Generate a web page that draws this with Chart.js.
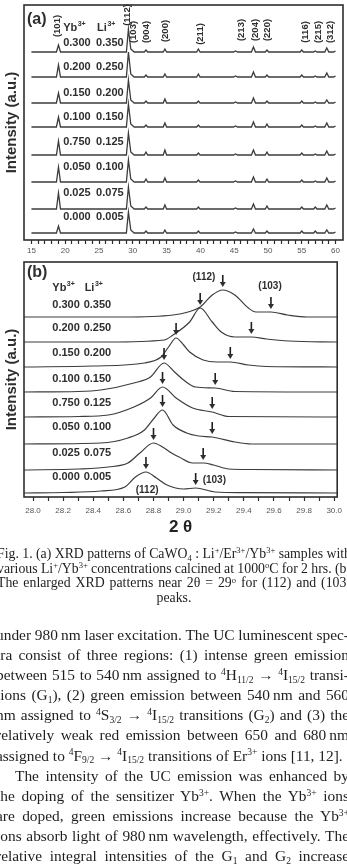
<!DOCTYPE html>
<html>
<head>
<meta charset="utf-8">
<script src="https://cdn.jsdelivr.net/npm/chart.js@4.4.1/dist/chart.umd.min.js"></script>
<style>
    html, body { margin: 0; padding: 0; background: #fff; }
    body { width: 347px; height: 866px; position: relative; overflow: hidden; }
    canvas { position: absolute; left: 0; }
    #chartA { top: 0; }
    #chartB { top: 258px; }
    .txt { position: absolute; font-family: "Liberation Serif", "Times New Roman", serif; color: #1e1e1e; }
    .txt div { white-space: nowrap; }
    #caption { left: -3px; width: 354px; top: 547px; font-size: 13.8px; line-height: 14.7px; }
    #caption .last { text-align: center; }
    #body { left: -4px; width: 353px; top: 625px; font-size: 15.4px; line-height: 20.1px; }
    #body .indent { padding-left: 19px; }
    sup, sub { font-size: 0.62em; line-height: 0; position: relative; vertical-align: baseline; }
    sup { top: -0.55em; }
    sub { top: 0.3em; }
</style>
</head>
<body>
<canvas id="chartA" width="347" height="262"></canvas>
<canvas id="chartB" width="347" height="280"></canvas>

<div id="caption" class="txt">
    <div><span>Fig. 1. (a) XRD patterns of CaWO<sub>4</sub> : Li<sup>+</sup>/Er<sup>3+</sup>/Yb<sup>3+</sup> samples with</span></div>
    <div><span>various Li<sup>+</sup>/Yb<sup>3+</sup> concentrations calcined at 1000<sup>o</sup>C for 2 hrs. (b)</span></div>
    <div><span>The enlarged XRD patterns near 2θ = 29<sup>o</sup> for (112) and (103)</span></div>
    <div class="last"><span>peaks.</span></div>
</div>

<div id="body" class="txt">
    <div><span>under 980&#8201;nm laser excitation. The UC luminescent spec-</span></div>
    <div><span>tra consist of three regions: (1) intense green emission</span></div>
    <div><span>between 515 to 540&#8201;nm assigned to <sup>4</sup>H<sub>11/2</sub> → <sup>4</sup>I<sub>15/2</sub> transi-</span></div>
    <div><span>tions (G<sub>1</sub>), (2) green emission between 540&#8201;nm and 560</span></div>
    <div><span>nm assigned to <sup>4</sup>S<sub>3/2</sub> → <sup>4</sup>I<sub>15/2</sub> transitions (G<sub>2</sub>) and (3) the</span></div>
    <div><span>relatively weak red emission between 650 and 680&#8201;nm</span></div>
    <div class="end"><span>assigned to <sup>4</sup>F<sub>9/2</sub> → <sup>4</sup>I<sub>15/2</sub> transitions of Er<sup>3+</sup> ions [11, 12].</span></div>
    <div class="indent"><span>The intensity of the UC emission was enhanced by</span></div>
    <div><span>the doping of the sensitizer Yb<sup>3+</sup>. When the Yb<sup>3+</sup> ions</span></div>
    <div><span>are doped, green emissions increase because the Yb<sup>3+</sup></span></div>
    <div><span>ions absorb light of 980&#8201;nm wavelength, effectively. The</span></div>
    <div><span>relative integral intensities of the G<sub>1</sub> and G<sub>2</sub> increase</span></div>
</div>

<script>
// Fig. 1 of the CaWO4:Li/Er/Yb paper, redrawn as two stacked XRD panels.
// Intensities are in arbitrary units; each trace is
// lifted by its own stack offset, just like the original Origin plot.

// ---- sample labels (same order in both panels, top trace first) ----
const YB = ['0.300', '0.200', '0.150', '0.100', '0.750', '0.050', '0.025', '0.000'];
const LI = ['0.350', '0.250', '0.200', '0.150', '0.125', '0.100', '0.075', '0.005'];

// ---- panel (a): 2θ = 15..60 ----
const TICK_LABELS_A = [15, 20, 25, 30, 35, 40, 45, 50, 55, 60];
const X_A = [15.0, 18.7, 19.0, 19.3, 29.05, 29.35, 29.7, 30.2, 31.7, 31.95, 32.2,
    34.5, 34.75, 35.0, 39.45, 39.7, 39.95, 44.9, 45.2, 45.5, 47.55, 47.85, 48.15,
    49.6, 49.85, 50.1, 54.75, 55.0, 55.25, 56.75, 57.0, 57.25, 58.4, 58.7, 59.0, 59.7, 60.0];
const A_300 = [0, 0, 7, 0, 0, 23, 3, 0, 0, 2, 0, 0, 3, 0, 0, 3, 0, 0, 1, 0, 0, 5, 0, 0, 2, 0, 0, 2, 0, 0, 1, 0, 0, 4, 0, 0, 1];
const A_200 = [0, 0, 12, 0, 0, 25, 3, 0, 0, 2, 0, 0, 3, 0, 0, 3, 0, 0, 1, 0, 0, 5, 0, 0, 2, 0, 0, 2, 0, 0, 1, 0, 0, 4, 0, 0, 1];
const A_150 = [0, 0, 10, 0, 0, 23, 3, 0, 0, 2, 0, 0, 4, 0, 0, 2, 0, 0, 1, 0, 0, 5, 0, 0, 2, 0, 0, 2, 0, 0, 1, 0, 0, 3, 0, 0, 1];
const A_100 = [0, 0, 10, 0, 0, 23, 3, 0, 0, 2, 0, 0, 4, 0, 0, 2, 0, 0, 1, 0, 0, 5, 0, 0, 3, 0, 0, 2, 0, 0, 1, 0, 0, 4, 0, 0, 1];
const A_750 = [0, 0, 14, 0, 0, 22, 3, 0, 0, 3, 0, 0, 5, 0, 0, 2, 0, 0, 1, 0, 0, 5, 0, 0, 3, 0, 0, 2, 0, 0, 1, 0, 0, 4, 0, 0, 1];
const A_050 = [0, 0, 15, 0, 0, 22, 3, 0, 0, 3, 0, 0, 4, 0, 0, 2, 0, 0, 1, 0, 0, 5, 0, 0, 3, 0, 0, 2, 0, 0, 1, 0, 0, 4, 0, 0, 1];
const A_025 = [0, 0, 16, 0, 0, 22, 3, 0, 0, 2, 0, 0, 4, 0, 0, 2, 0, 0, 1, 0, 0, 5, 0, 0, 3, 0, 0, 2, 0, 0, 2, 0, 0, 4, 0, 0, 1];
const A_000 = [0, 0, 7, 0, 0, 21, 3, 0, 0, 2, 0, 0, 3, 0, 0, 2, 0, 0, 1, 0, 0, 4, 0, 0, 2, 0, 0, 2, 0, 0, 2, 0, 0, 3, 0, 0, 1];
const ROWS_A = [A_300, A_200, A_150, A_100, A_750, A_050, A_025, A_000];
const OFFSET_A = [188, 163, 137, 113, 85, 58, 31, 7];

// Miller indices written vertically above the top trace
const PLANES_A = ['(101)', '(112)', '(103)', '(004)', '(200)', '(211)', '(213)', '(204)', '(220)', '(116)', '(215)', '(312)'];
const PLANES_A_X = [18.88, 29.2, 30.09, 32.07, 34.78, 39.96, 46.09, 48.09, 49.87, 55.49, 57.41, 59.19];
const PLANES_A_Y = [214, 225, 208, 208, 209, 206, 210, 210, 210, 208, 208, 208];

// ---- panel (b): zoom on 2θ = 28..30 ----
const TICK_LABELS_B = ['28.0', '28.2', '28.4', '28.6', '28.8', '29.0', '29.2', '29.4', '29.6', '29.8', '30.0'];
const B_X300 = [27.94, 28.6, 28.93, 29.03, 29.11, 29.19, 29.26, 29.34, 29.43, 29.48, 29.58, 29.69, 29.82, 30.02];
const B_Y300 = [0, 0, 2, 5, 10, 22, 27, 22, 9, 5, 5, 2, 0, 0];
const B_X200 = [27.94, 28.5, 28.87, 28.93, 29.04, 29.11, 29.19, 29.25, 29.34, 29.45, 29.55, 29.7, 30.02];
const B_Y200 = [0, 0, 2, 7, 20, 34, 20, 10, 5, 5, 3, 1, 0];
const B_X150 = [27.94, 28.4, 28.74, 28.85, 28.9, 28.95, 29.0, 29.04, 29.13, 29.22, 29.31, 29.43, 29.55, 30.02];
const B_Y150 = [0, 1, 4, 10, 20, 29, 22, 15, 7, 5, 5, 2, 0.5, 0];
const B_X100 = [27.94, 28.3, 28.45, 28.67, 28.78, 28.87, 28.94, 29.0, 29.08, 29.21, 29.34, 30.02];
const B_Y100 = [0, 0.5, 2, 9, 15, 29, 20, 12, 5, 4, 0.5, 0];
const B_X750 = [27.94, 28.3, 28.5, 28.67, 28.78, 28.86, 28.95, 29.06, 29.19, 29.3, 30.02];
const B_Y750 = [0, 0.5, 2, 10, 19, 30, 19, 9, 5, 0.5, 0];
const B_X050 = [27.94, 28.45, 28.63, 28.74, 28.8, 28.86, 28.93, 29.02, 29.1, 29.19, 29.34, 29.45, 30.02];
const B_Y050 = [0, 1, 6, 14, 25, 34, 19, 11, 8, 7, 2, 0, 0];
const B_X025 = [27.94, 28.3, 28.5, 28.63, 28.71, 28.8, 28.86, 28.92, 28.97, 29.06, 29.13, 29.2, 29.3, 29.45, 30.02];
const B_Y025 = [0, 1, 3, 7, 17, 27, 23, 17, 13, 7, 7, 5, 1, 0.5, 0];
const B_X000 = [27.94, 28.2, 28.45, 28.61, 28.68, 28.75, 28.82, 28.89, 29.0, 29.08, 29.21, 29.4, 30.02];
const B_Y000 = [0, 0.5, 2, 6, 16, 21, 15, 8, 4, 5, 1, 0.3, 0];
const ROWS_B = [[B_X300, B_Y300], [B_X200, B_Y200], [B_X150, B_Y150], [B_X100, B_Y100],
    [B_X750, B_Y750], [B_X050, B_Y050], [B_X025, B_Y025], [B_X000, B_Y000]];
const OFFSET_B = [180, 155, 130, 105, 80, 53, 27, 4];

// arrows: (112) main peak and (103) shoulder of each trace
const PEAK_X_B = [29.26, 29.11, 28.95, 28.87, 28.86, 28.86, 28.80, 28.75];
const PEAK_H_B = [27, 34, 29, 29, 30, 34, 27, 21];
const BUMP_X_B = [29.58, 29.45, 29.31, 29.21, 29.19, 29.19, 29.13, 29.08];
const BUMP_H_B = [5, 5, 5, 4, 5, 7, 7, 5];

const PLANES_B = ['(112)', '(103)', '(112)', '(103)'];
const PLANES_B_X = [29.135, 29.574, 28.758, 29.204];
const PLANES_B_Y = [220, 211, 7, 17];

// ---- styling ----
const INK = '#2e2e2e';
const LINE = '#3c3c3c';
const SANS = '"Liberation Sans", Arial, sans-serif';

// ---- helpers ----

function frameBox(ctx, a) {
    ctx.save();
    ctx.strokeStyle = INK;
    ctx.lineWidth = 1.6;
    ctx.strokeRect(a.left, a.top, a.right - a.left, a.bottom - a.top);
    ctx.restore();
}

function drawIon(ctx, base, sup, x, y) {
    ctx.font = `bold 11px ${SANS}`;
    ctx.textAlign = 'left';
    ctx.textBaseline = 'middle';
    ctx.fillText(base, x, y);
    const w = ctx.measureText(base).width;
    ctx.font = `bold 7px ${SANS}`;
    ctx.fillText(sup, x + w + 0.5, y - 4);
}

function drawArrow(ctx, px, tip) {
    ctx.beginPath();
    ctx.moveTo(px, tip - 12);
    ctx.lineTo(px, tip - 4);
    ctx.stroke();
    ctx.beginPath();
    ctx.moveTo(px - 3, tip - 5);
    ctx.lineTo(px + 3, tip - 5);
    ctx.lineTo(px, tip);
    ctx.closePath();
    ctx.fill();
}

function yAxis(title) {
    return {
        type: 'linear',
        min: 0,
        max: 235,
        ticks: { display: false },
        grid: { display: false },
        border: { display: false },
        title: {
            display: true,
            text: title,
            color: INK,
            font: { family: SANS, size: 15, weight: 'bold' },
            padding: { top: 3, bottom: 0 },
        },
        afterFit: (s) => { s.width = 24; },
    };
}

// ---- panel (a) ----

const labelsA = {
    id: 'labelsA',
    afterDraw(chart) {
        const { ctx, chartArea, scales: { x, y } } = chart;
        frameBox(ctx, chartArea);
        ctx.save();
        ctx.fillStyle = INK;
        ctx.font = `bold 16px ${SANS}`;
        ctx.textBaseline = 'middle';
        ctx.fillText('(a)', chartArea.left + 3, chartArea.top + 15);

        const colYb = x.getPixelForValue(19.69);
        const colLi = x.getPixelForValue(24.57);
        const topBase = y.getPixelForValue(OFFSET_A[0]);
        drawIon(ctx, 'Yb', '3+', colYb, topBase - 24);
        drawIon(ctx, 'Li', '3+', colLi + 1, topBase - 24);

        const lift = [9, 10, 10, 10, 13, 15, 16, 16];
        ctx.font = `bold 11px ${SANS}`;
        ctx.textAlign = 'left';
        YB.forEach((yb, r) => {
            const py = y.getPixelForValue(OFFSET_A[r]) - lift[r];
            ctx.fillText(yb, colYb, py);
            ctx.fillText(LI[r], colLi, py);
        });

        ctx.font = `bold 9.5px ${SANS}`;
        ctx.textAlign = 'center';
        PLANES_A.forEach((p, i) => {
            ctx.save();
            ctx.translate(x.getPixelForValue(PLANES_A_X[i]), y.getPixelForValue(PLANES_A_Y[i]));
            ctx.rotate(-Math.PI / 2);
            ctx.fillText(p, 0, 0);
            ctx.restore();
        });
        ctx.restore();
    },
};

new Chart(document.getElementById('chartA').getContext('2d'), {
    type: 'line',
    data: {
        datasets: ROWS_A.map((row, r) => ({
            data: X_A.map((v, i) => ({ x: v, y: OFFSET_A[r] + row[i] })),
            borderColor: LINE,
            borderWidth: 1.3,
            pointRadius: 0,
            tension: 0,
        })),
    },
    options: {
        responsive: false,
        animation: false,
        parsing: false,
        layout: { padding: { top: 5, right: 4, left: 0, bottom: 0 } },
        plugins: { legend: { display: false }, tooltip: { enabled: false } },
        scales: {
            x: {
                type: 'linear',
                min: 13.9,
                max: 61.1,
                afterBuildTicks: (s) => {
                    const t = [];
                    for (let v = TICK_LABELS_A[0]; v <= TICK_LABELS_A[TICK_LABELS_A.length - 1]; v++) {
                        t.push({ value: v });
                    }
                    s.ticks = t;
                },
                ticks: {
                    autoSkip: false,
                    maxRotation: 0,
                    padding: 2,
                    color: '#555',
                    font: { family: SANS, size: 8 },
                    callback: (v) => (TICK_LABELS_A.includes(v) ? String(v) : ''),
                },
                grid: { drawOnChartArea: false, tickLength: 4, color: INK, tickWidth: 1.2 },
                border: { display: false },
                afterFit: (s) => { s.height = 22; },
            },
            y: yAxis('Intensity (a.u.)'),
        },
    },
    plugins: [labelsA],
});

// ---- panel (b) ----

const labelsB = {
    id: 'labelsB',
    afterDraw(chart) {
        const { ctx, chartArea, scales: { x, y } } = chart;
        frameBox(ctx, chartArea);
        ctx.save();
        ctx.fillStyle = INK;
        ctx.strokeStyle = '#1e1e1e';
        ctx.lineWidth = 1.6;
        ctx.font = `bold 16px ${SANS}`;
        ctx.textBaseline = 'middle';
        ctx.fillText('(b)', chartArea.left + 3, chartArea.top + 11);

        const colYb = x.getPixelForValue(28.128);
        const colLi = x.getPixelForValue(28.336);
        const topBase = y.getPixelForValue(OFFSET_B[0]);
        drawIon(ctx, 'Yb', '3+', colYb, topBase - 29);
        drawIon(ctx, 'Li', '3+', colLi + 1, topBase - 29);

        const lift = [12, 14, 14, 13, 14, 17, 17, 16];
        ctx.font = `bold 11px ${SANS}`;
        ctx.textAlign = 'left';
        YB.forEach((yb, r) => {
            const py = y.getPixelForValue(OFFSET_B[r]) - lift[r];
            ctx.fillText(yb, colYb, py);
            ctx.fillText(LI[r], colLi, py);
            drawArrow(ctx, x.getPixelForValue(PEAK_X_B[r]), y.getPixelForValue(OFFSET_B[r] + PEAK_H_B[r]) - 3);
            drawArrow(ctx, x.getPixelForValue(BUMP_X_B[r]), y.getPixelForValue(OFFSET_B[r] + BUMP_H_B[r]) - 3);
        });

        ctx.font = `bold 10px ${SANS}`;
        ctx.textAlign = 'center';
        PLANES_B.forEach((p, i) => {
            ctx.fillText(p, x.getPixelForValue(PLANES_B_X[i]), y.getPixelForValue(PLANES_B_Y[i]));
        });
        ctx.restore();
    },
};

new Chart(document.getElementById('chartB').getContext('2d'), {
    type: 'line',
    data: {
        datasets: ROWS_B.map(([xs, ys], r) => ({
            data: xs.map((v, i) => ({ x: v, y: OFFSET_B[r] + ys[i] })),
            borderColor: LINE,
            borderWidth: 1.2,
            pointRadius: 0,
            cubicInterpolationMode: 'monotone',
        })),
    },
    options: {
        responsive: false,
        animation: false,
        parsing: false,
        layout: { padding: { top: 4, right: 3, left: 0, bottom: 0 } },
        plugins: { legend: { display: false }, tooltip: { enabled: false } },
        scales: {
            x: {
                type: 'linear',
                min: 27.94,
                max: 30.02,
                afterBuildTicks: (s) => {
                    const t = [];
                    for (let i = 0; i <= (TICK_LABELS_B.length - 1) * 2; i++) {
                        t.push({ value: 28 + i / 10 });
                    }
                    s.ticks = t;
                },
                ticks: {
                    autoSkip: false,
                    maxRotation: 0,
                    padding: 5,
                    color: '#555',
                    font: { family: SANS, size: 8 },
                    callback: (v, i) => (i % 2 === 0 ? TICK_LABELS_B[i / 2] : ''),
                },
                grid: { drawOnChartArea: false, tickLength: 4, color: INK, tickWidth: 1.2 },
                border: { display: false },
                title: {
                    display: true,
                    text: '2 θ',
                    color: '#222',
                    font: { family: SANS, size: 17, weight: 'bold' },
                    padding: 0,
                },
                afterFit: (s) => { s.height = 41; },
            },
            y: yAxis('Intensity (a.u.)'),
        },
    },
    plugins: [labelsB],
});

// ---- justify the scanned text lines by hand (word spacing fit) ----

function fitLines(boxId) {
    const box = document.getElementById(boxId);
    const full = box.clientWidth;
    box.querySelectorAll('div').forEach((div) => {
        if (div.classList.contains('last')) return;
        const span = div.firstElementChild;
        const indent = parseFloat(getComputedStyle(div).paddingLeft) || 0;
        const gaps = (span.textContent.match(/ /g) || []).length;
        const slack = full - indent - span.getBoundingClientRect().width;
        if (gaps === 0) return;
        if (div.classList.contains('end') && slack > 0) return;
        span.style.wordSpacing = `${slack / gaps}px`;
    });
}

document.fonts.ready.then(() => {
    fitLines('caption');
    fitLines('body');
});
</script>
</body>
</html>
